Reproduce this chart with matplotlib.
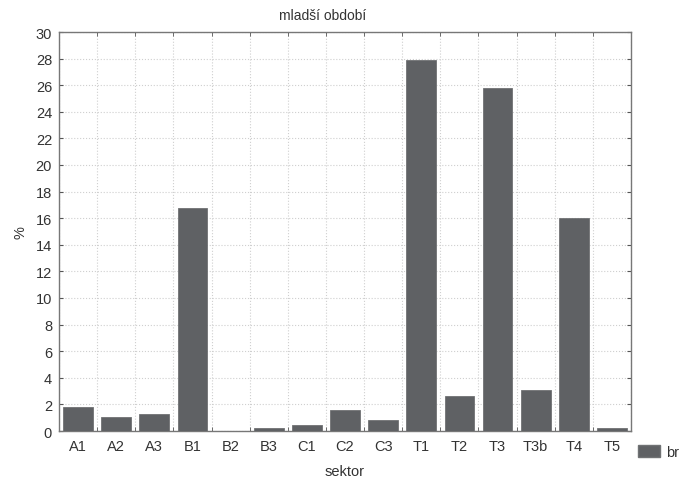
import matplotlib
matplotlib.use("Agg")
import matplotlib.pyplot as plt
import numpy as np
from matplotlib.patches import Patch

plt.rcParams["font.family"] = ["Liberation Sans", "DejaVu Sans"]

sektory = ["A1", "A2", "A3", "B1", "B2", "B3", "C1", "C2", "C3",
           "T1", "T2", "T3", "T3b", "T4", "T5"]
br = [1.8, 1.05, 1.3, 16.75, 0.0, 0.22, 0.45, 1.55, 0.8,
      27.9, 2.6, 25.8, 3.1, 16.0, 0.22]

fig = plt.figure(figsize=(6.87, 4.81), dpi=100)
ax = fig.add_axes([59 / 687, 1 - 432 / 481, 572 / 687, 399 / 481])

x = np.arange(len(sektory))
ax.bar(x, br, width=0.78, color="#5f6164", edgecolor="#707274", linewidth=0.6, zorder=3)

ax.set_xlim(-0.5, len(sektory) - 0.5)
ax.set_ylim(0, 30)
ax.set_yticks(np.arange(0, 31, 2))
ax.set_xticks(x)
ax.set_xticklabels(sektory)
ax.set_xticks(np.arange(-0.5, len(sektory), 1), minor=True)

ax.tick_params(axis="x", which="major", length=0, labelsize=10.5, labelcolor="#333333", pad=6)
ax.tick_params(axis="x", which="minor", direction="in", length=3, top=True, color="#555555")
ax.tick_params(axis="y", direction="in", length=3, right=True, labelsize=10.5,
               color="#555555", labelcolor="#333333", pad=5)

ax.grid(True, axis="y", which="major", color="#cfcfcf", linestyle=":", linewidth=0.8, zorder=0)
ax.grid(True, axis="x", which="minor", color="#cfcfcf", linestyle=":", linewidth=0.8, zorder=0)
for s in ax.spines.values():
    s.set_color("#777777")
    s.set_linewidth(1.0)

ax.set_xlabel("sektor", fontsize=10.5, color="#333333", labelpad=8)
ax.set_ylabel("%", fontsize=10.5, color="#333333", labelpad=6)
fig.text(323 / 687, 1 - 16 / 481, "mladší období", ha="center", va="center",
         fontsize=10, color="#333333")

fig.legend(handles=[Patch(facecolor="#5f6164", edgecolor="#707274", label="br")],
           loc="center left", bbox_to_anchor=(638 / 687, 1 - 453 / 481), frameon=False,
           borderpad=0, borderaxespad=0, fontsize=10.5, handlelength=1.5,
           handleheight=0.8, handletextpad=0.4, labelcolor="#333333")

fig.savefig("out.png", dpi=100)
